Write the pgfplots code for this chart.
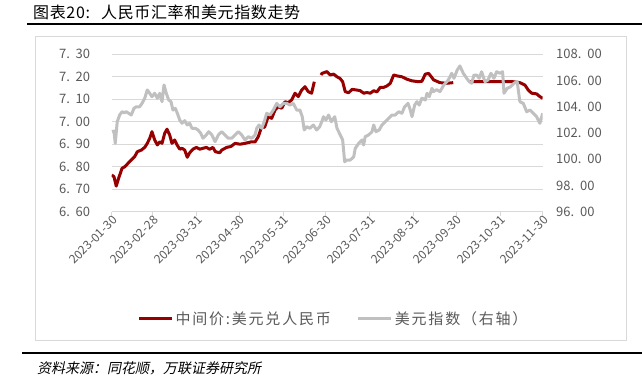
\documentclass[border=0pt]{standalone}
\usepackage{fontspec}
\setmainfont{Noto Sans CJK SC}
\newfontfamily\srcfont{Noto Sans CJK SC}[FakeSlant=0.2]
\newfontfamily\legfont{Noto Sans CJK SC}[LetterSpace=12]
\newfontfamily\titfont{Noto Sans CJK SC}[LetterSpace=4]
\usepackage{pgfplots}
\pgfplotsset{compat=1.18}
\definecolor{cnyred}{HTML}{960000}
\definecolor{usdgray}{HTML}{C0C0C0}
\definecolor{tickgray}{HTML}{595959}
\definecolor{gridgray}{HTML}{D9D9D9}
\begin{document}
\begin{tikzpicture}
\useasboundingbox (0pt,0pt) rectangle (642pt,388pt);
\node[anchor=west, inner sep=0pt, font=\fontsize{16}{16}\selectfont] at (33pt,376pt) {\titfont 图表20:\hspace{0.7em}人民币汇率和美元指数走势};
\draw[line width=2pt] (27pt,364pt) -- (642pt,364pt);
\draw[gridgray, line width=0.8pt] (35pt,352pt) rectangle (626pt,48pt);
\begin{axis}[
  at={(111.7pt,176.3pt)}, anchor=south west, scale only axis,
  width=431pt, height=157.4pt,
  xmin=0, xmax=304, ymin=6.6, ymax=7.3,
  separate axis lines,
  axis x line*=bottom, axis y line*=left,
  x axis line style={draw=gridgray, line width=0.8pt},
  y axis line style={draw=none},
  xtick={0,29,60,90,121,151,182,213,243,274,304},
  xticklabels={2023-01-30,2023-02-28,2023-03-31,2023-04-30,2023-05-31,2023-06-30,2023-07-31,2023-08-31,2023-09-30,2023-10-31,2023-11-30},
  xticklabel style={rotate=45, anchor=east, font=\fontsize{12}{12}\selectfont, text=tickgray, xshift=4pt, yshift=-4pt},
  x tick style={draw=gridgray, line width=0.8pt},
  tick align=outside, major tick length=4pt,
  ytick={6.6,6.7,6.8,6.9,7.0,7.1,7.2,7.3},
  yticklabels={6.\hspace{0.45em}60,6.\hspace{0.45em}70,6.\hspace{0.45em}80,6.\hspace{0.45em}90,7.\hspace{0.45em}00,7.\hspace{0.45em}10,7.\hspace{0.45em}20,7.\hspace{0.45em}30},
  yticklabel style={font=\fontsize{13}{13}\selectfont, text=tickgray, xshift=-14pt},
  y tick style={draw=none},
  ymajorgrids, grid style={draw=gridgray, line width=0.8pt},
  unbounded coords=jump,
  legend style={at={(0.5146,-0.68)}, anchor=center, draw=none, fill=none,
    font=\fontsize{15}{15}\selectfont\legfont, text=tickgray,
    /tikz/every even column/.append style={column sep=24pt}},
  legend columns=2,
  legend image code/.code={\draw[#1] (0pt,0pt) -- (33pt,0pt);},
]
\addplot[cnyred, line width=3pt, line join=round] coordinates {
(0,6.763)(1.6,6.756)(3.2,6.714)(4.9,6.749)(7.3,6.793)(9.2,6.800)(11.5,6.815)(13.8,6.830)(16.2,6.845)(18.1,6.867)(20.9,6.874)(23.3,6.886)(25.1,6.904)(26.8,6.926)(28.4,6.956)(30.3,6.919)(32.2,6.897)(33.9,6.911)(35.5,6.904)(37.4,6.949)(39.0,6.967)(40.9,6.941)(42.5,6.904)(44.4,6.919)(46.1,6.897)(48.0,6.878)(49.6,6.882)(51.5,6.874)(53.3,6.842)(55.0,6.862)(57.3,6.878)(59.7,6.886)(62.1,6.878)(64.4,6.882)(66.7,6.886)(69.1,6.878)(71.4,6.886)(73.1,6.867)(76.2,6.862)(77.6,6.874)(81.1,6.886)(84.1,6.890)(87.0,6.904)(90.5,6.900)(94.0,6.904)(98.7,6.911)(101.1,6.910)(103.4,6.934)(105.8,6.978)(107.8,6.975)(110.4,7.023)(112.8,7.015)(115.2,7.052)(117.5,7.067)(119.9,7.060)(122.2,7.089)(124.5,7.085)(126.9,7.097)(129.3,7.127)(131.6,7.112)(134.0,7.141)(136.3,7.156)(138.6,7.134)(141.0,7.127)(142.9,7.178)(145,nan)(147.6,7.208)(148.3,7.215)(151.8,7.223)(154.2,7.208)(156.5,7.212)(158.9,7.200)(161.0,7.193)(162.9,7.178)(164.7,7.134)(167.1,7.129)(169.5,7.144)(173.0,7.141)(175.3,7.138)(177.7,7.127)(180.0,7.130)(182.4,7.127)(184.8,7.138)(187.1,7.133)(189.4,7.153)(191.8,7.153)(194.1,7.159)(196.5,7.171)(198.9,7.208)(201.2,7.204)(204.7,7.200)(208.3,7.189)(211.8,7.182)(216.5,7.178)(218.8,7.180)(221.2,7.212)(223.6,7.215)(227.1,7.186)(231.5,7.174)(236.2,7.171)(240.9,7.174)(246,nan)(252.7,7.178)(260,7.178)(266.8,7.178)(275,7.178)(283.2,7.178)(287.9,7.174)(291.5,7.163)(293.8,7.141)(296.2,7.127)(299.7,7.124)(302.0,7.112)(304,7.104)
};
\addlegendentry{中间价:美元兑人民币}
\addlegendimage{usdgray, line width=3pt}
\addlegendentry{美元指数（右轴）}
\end{axis}
\begin{axis}[
  at={(111.7pt,176.3pt)}, anchor=south west, scale only axis,
  width=431pt, height=157.4pt,
  xmin=0, xmax=304, ymin=96, ymax=108,
  hide x axis,
  axis y line*=right,
  y axis line style={draw=none},
  ytick={96,98,100,102,104,106,108},
  yticklabels={96.\hspace{0.45em}00,98.\hspace{0.45em}00,100.\hspace{0.45em}00,102.\hspace{0.45em}00,104.\hspace{0.45em}00,106.\hspace{0.45em}00,108.\hspace{0.45em}00},
  yticklabel style={font=\fontsize{13}{13}\selectfont, text=tickgray, anchor=west, xshift=10pt},
  y tick style={draw=none},
]
\addplot[usdgray, line width=3pt, line join=round] coordinates {
(0.2,102.10)(1.6,102.15)(2.5,101.21)(3.9,102.86)(5.6,103.37)(7.3,103.62)(8.9,103.55)(10.3,103.62)(12.0,103.50)(13.8,103.37)(15.7,103.88)(17.3,104.00)(19.7,104.00)(21.4,104.26)(23.3,104.65)(25.1,105.28)(26.8,105.03)(28.4,104.77)(30.3,105.03)(32.2,104.65)(33.9,105.03)(35.5,104.39)(36.9,105.66)(38.5,105.03)(40.2,104.52)(41.8,104.39)(43.2,103.75)(44.9,103.88)(46.3,103.50)(48.0,102.99)(49.6,102.74)(51.5,102.94)(53.3,102.61)(55.0,102.74)(56.6,102.36)(59.0,102.36)(60.9,102.23)(62.8,101.98)(64.4,101.60)(66.7,101.85)(68.4,102.10)(70.7,101.85)(72.9,101.34)(75.2,101.85)(77.6,102.10)(79.9,101.85)(82.2,101.60)(84.6,101.60)(87.0,101.85)(89.3,102.10)(91.7,101.85)(94.0,101.47)(96.3,101.72)(98.7,101.60)(101.1,101.85)(102.3,102.36)(103.9,102.61)(105.8,102.36)(107.6,102.86)(109.3,103.50)(111.6,103.37)(114.0,103.75)(116.4,104.26)(118.7,104.00)(121.0,104.26)(123.4,104.26)(125.7,104.13)(128.1,104.26)(130.5,103.75)(132.8,103.75)(134.4,103.24)(135.8,102.23)(137.5,102.48)(139.8,102.36)(142.2,102.61)(144.6,102.23)(146.7,102.48)(148.3,102.90)(149.4,103.24)(151.1,102.99)(153.0,103.37)(154.9,102.86)(157.3,103.24)(158.9,102.36)(161.2,101.85)(162.9,101.47)(164.3,99.81)(165.9,99.94)(168.3,99.94)(170.7,100.19)(171.8,100.83)(174.2,101.21)(176.5,101.47)(177.7,101.09)(178.8,101.72)(181.2,101.85)(183.6,102.10)(184.8,102.61)(186.4,102.10)(188.7,102.23)(190.6,102.61)(192.9,102.86)(195.3,103.12)(197.7,103.37)(200.0,103.37)(202.4,103.62)(204.7,103.50)(206.6,104.00)(209.0,104.26)(210.6,103.75)(211.8,103.24)(213.7,104.13)(215.3,104.39)(216.9,104.13)(218.8,104.65)(221.2,104.52)(222.4,105.03)(224.0,104.77)(225.9,105.41)(226.8,105.15)(229.2,105.30)(231.5,105.15)(234.3,105.66)(237.4,106.04)(239.8,106.55)(241.4,106.17)(243.7,106.80)(245.6,107.11)(248.0,106.55)(250.4,106.17)(252.2,105.91)(253.9,105.79)(255.5,106.42)(257.4,106.42)(259.2,106.17)(260.9,106.67)(263.3,105.91)(265.4,106.04)(267.5,106.55)(269.6,106.17)(271.5,106.67)(273.8,106.55)(275.7,106.67)(276.7,105.03)(279.0,105.41)(281.4,105.53)(283.7,105.79)(286.0,105.91)(287.9,104.39)(290.3,104.26)(292.7,103.62)(295.0,103.75)(297.3,103.50)(299.7,103.24)(302.0,102.74)(304,103.50)
};
\end{axis}
\draw[line width=2.5pt] (22pt,35pt) -- (642pt,35pt);
\node[anchor=west, inner sep=0pt, font=\fontsize{14}{14}\selectfont] at (37pt,20pt) {\srcfont 资料来源：同花顺，万联证券研究所};
\end{tikzpicture}
\end{document}
